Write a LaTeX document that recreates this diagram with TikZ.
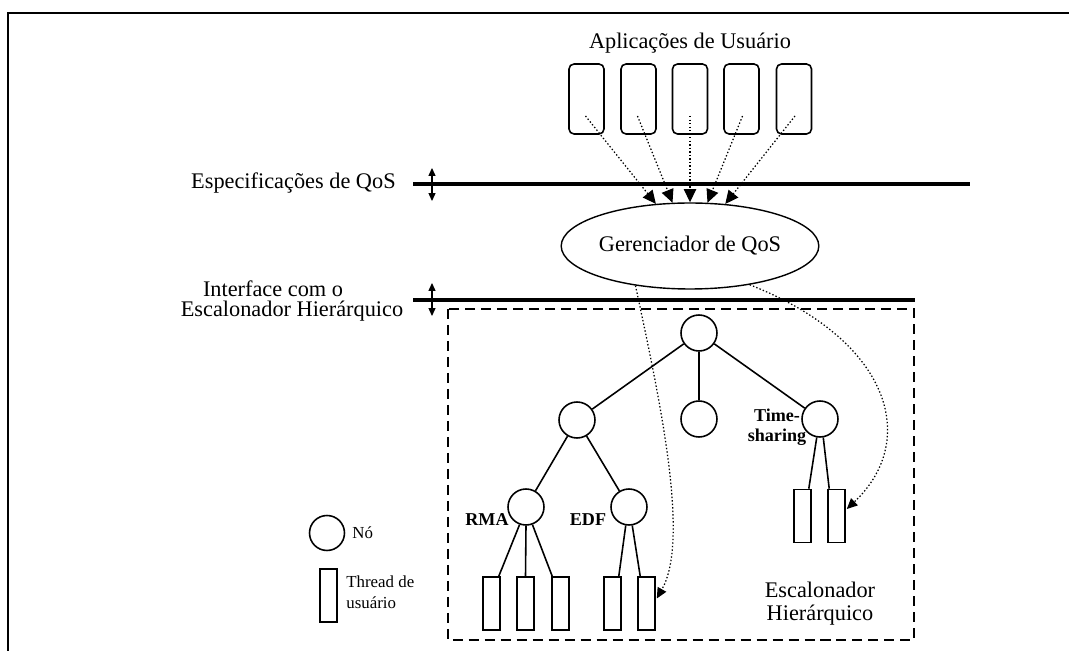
\documentclass[tikz,border=0pt]{standalone}
\usepackage{fontspec}
\setmainfont{Liberation Serif}
\usetikzlibrary{arrows.meta,shapes.geometric,calc}
\begin{document}
\begin{tikzpicture}[x=0.02cm,y=-0.02cm,
  lbl/.style={font=\fontsize{12.7}{13}\selectfont, inner sep=0pt, align=center},
  tag/.style={font=\bfseries\fontsize{10.3}{11.3}\selectfont, inner sep=0pt, align=center},
  note/.style={font=\fontsize{9.6}{11.9}\selectfont, inner sep=0pt, align=left, anchor=west},
  appbox/.style={draw, line width=0.9pt, rounded corners=0.1cm, minimum width=0.7cm, minimum height=1.4cm, inner sep=0pt},
  tnode/.style={draw, circle, line width=0.9pt, minimum size=0.72cm, inner sep=0pt},
  thr/.style={draw, rectangle, line width=0.9pt, minimum width=0.34cm, minimum height=1.06cm, inner sep=0pt},
  edge/.style={line width=0.9pt},
  bar/.style={line width=1.9pt},
  req/.style={line width=0.7pt, dash pattern=on 0.8pt off 1.2pt, -{Triangle[length=7.5pt,width=7pt]}},
  map/.style={line width=0.7pt, dash pattern=on 0.8pt off 1.2pt, -{Triangle[length=6pt,width=5.5pt]}},
  updown/.style={line width=0.6pt, {Triangle[length=4.5pt,width=4pt]}-{Triangle[length=4.5pt,width=4pt]}},
]
\useasboundingbox (0,0) rectangle (1069,651);

% outer frame (top and left edges)
\draw[line width=1.2pt] (8,651) -- (8,13) -- (1069,13);

% user applications
\node[lbl] (apptitle) at (690,43) {Aplicações de Usuário};
\node[appbox] (a1) at (586.5,99) {};
\node[appbox] (a2) at (638.5,99) {};
\node[appbox] (a3) at (690,99) {};
\node[appbox] (a4) at (741.5,99) {};
\node[appbox] (a5) at (794,99) {};

% layer separators
\coordinate (q1) at (413,184);
\coordinate (q2) at (970,184);
\draw[bar] (q1) -- (q2);
\coordinate (i1) at (413,300);
\coordinate (i2) at (915,300);
\draw[bar] (i1) -- (i2);

\coordinate (qa) at (432,168);
\coordinate (qb) at (432,201);
\draw[updown] (qa) -- (qb);
\coordinate (ia) at (432,283);
\coordinate (ib) at (432,316);
\draw[updown] (ia) -- (ib);

\node[lbl, anchor=east] (spec) at (396,183) {Especificações de QoS};
\node[lbl] (intf1) at (273,289) {Interface com o};
\node[lbl] (intf2) at (292,311) {Escalonador Hierárquico};

% QoS manager
\node[draw, ellipse, line width=0.8pt, minimum width=4.88cm, minimum height=1.72cm, inner sep=0pt,
      font=\fontsize{12.7}{13}\selectfont] (gm) at (690,246) {Gerenciador de QoS};

% requests from the applications
\draw[req] ($(a1.center)+(-1,17)$) -- (gm.129);
\draw[req] ($(a2.center)+(-1,17)$) -- (gm.112);
\draw[req] ($(a3.center)+(0,17)$) -- (gm.90);
\draw[req] ($(a4.center)+(1,17)$) -- (gm.68);
\draw[req] ($(a5.center)+(1,17)$) -- (gm.50);

% hierarchical scheduler
\draw[line width=1.1pt, dash pattern=on 5.7pt off 3.4pt] (448,309) rectangle (914,640);

\node[tnode] (root) at (699,333) {};
\node[tnode] (nl) at (577,420) {};
\node[tnode] (nm) at (699,419) {};
\node[tnode] (ts) at (820,419) {};
\node[tnode] (rma) at (526,507) {};
\node[tnode] (edf) at (629,507) {};

\node[thr] (t1) at (491.5,603.5) {};
\node[thr] (t2) at (525.5,603.5) {};
\node[thr] (t3) at (560.5,603.5) {};
\node[thr] (t4) at (612.5,603.5) {};
\node[thr] (t5) at (646.5,603.5) {};
\node[thr] (u1) at (802.5,516) {};
\node[thr] (u2) at (836.5,516) {};

\draw[edge] (root) -- (nl);
\draw[edge] (root) -- (nm);
\draw[edge] (root) -- (ts);
\draw[edge] (nl) -- (rma);
\draw[edge] (nl) -- (edf);

\draw[edge] (rma.-110) -- ($(t1.north east)+(-2,0)$);
\draw[edge] (rma.south) -- (t2.north);
\draw[edge] (rma.-70) -- ($(t3.north west)+(1,0)$);
\draw[edge] (edf.-100) -- ($(t4.north east)+(-3,0)$);
\draw[edge] (edf.-80) -- ($(t5.north west)+(3,0)$);
\draw[edge] (ts.-100) -- ($(u1.north east)+(-3,0)$);
\draw[edge] (ts.-80) -- ($(u2.north west)+(2,0)$);

\node[tag] (lrma) at (487,520) {RMA};
\node[tag] (ledf) at (588,520) {EDF};
\node[tag] (lts) at (777,427) {Time-\\sharing};

\node[lbl] (esc) at (820,604) {Escalonador\\Hierárquico};

% mapping from the QoS manager to the scheduler
\draw[map] (gm.-144) .. controls (660,400) and (690,540) .. ($(t5.east)+(1,-5)$);
\draw[map] (gm.-33) .. controls (890,340) and (920,440) .. ($(u2.east)+(1,-7)$);

% legend
\node[tnode, minimum size=0.7cm] (lgc) at (327,533) {};
\node[note] (lgct) at (352,533) {Nó};
\node[thr] (lgt) at (328.5,595.5) {};
\node[note] (lgtt) at (346,592) {Thread de\\usuário};
\end{tikzpicture}
\end{document}
